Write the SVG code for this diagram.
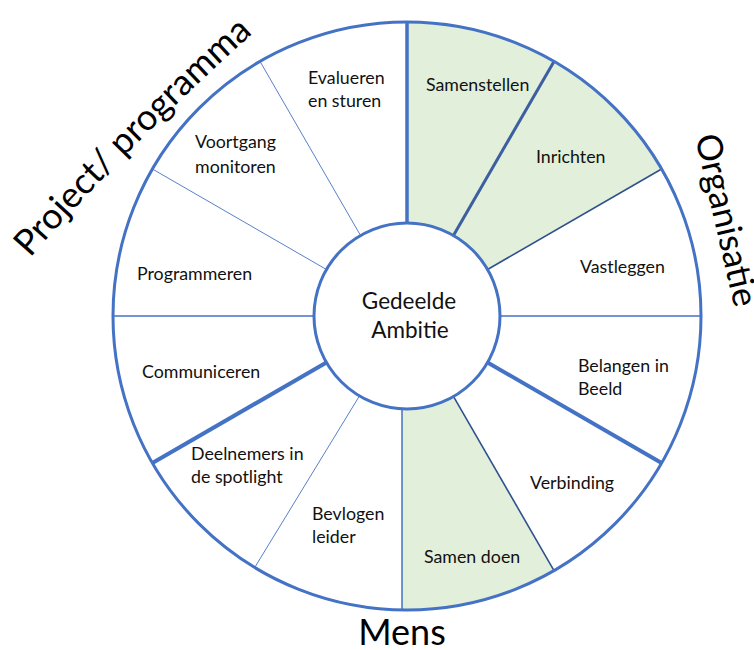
<svg xmlns="http://www.w3.org/2000/svg" width="754" height="650" viewBox="0 0 754 650">
<style>
.lbl{font-family:Lato,"Liberation Sans",sans-serif;font-size:17.8px;fill:#111}
.big{font-family:Lato,"Liberation Sans",sans-serif;font-size:36px;fill:#000}
.ctr{font-family:Lato,"Liberation Sans",sans-serif;font-size:22.5px;fill:#111;text-anchor:middle}
.fill{fill:#E2EFDA;stroke:none}
.thin{stroke:#4472C4;stroke-width:0.9;fill:none}
.mid{stroke:#4472C4;stroke-width:1.5;fill:none}
.dark{stroke:#2F528F;stroke-width:1.6;fill:none}
.thick{stroke:#4472C4;stroke-width:4;fill:none}
.ring{stroke:#4472C4;stroke-width:3;fill:none}
</style>
<rect width="754" height="650" fill="#fff"/>
<g id="samenstellen">
<path class="fill" d="M407,22 A294,294 0 0 1 554,61.4 L453,236.3 A92,92 0 0 0 407,224 Z"/>
<text class="lbl" x="426" y="91">Samenstellen</text>
</g>
<g id="inrichten">
<path class="fill" d="M554,61.4 A294,294 0 0 1 661.6,169 L486.7,270 A92,92 0 0 0 453,236.3 Z"/>
<text class="lbl" x="536" y="163">Inrichten</text>
</g>
<g id="vastleggen"><text class="lbl" x="580" y="273">Vastleggen</text></g>
<g id="belangen"><text class="lbl" x="578" y="372">Belangen in</text><text class="lbl" x="578" y="395">Beeld</text></g>
<g id="verbinding"><text class="lbl" x="530" y="489">Verbinding</text></g>
<g id="samendoen">
<path class="fill" d="M554,570.6 A294,294 0 0 1 402,610 L402,407.9 A92,92 0 0 0 453,395.7 Z"/>
<text class="lbl" x="424" y="563">Samen doen</text>
</g>
<g id="bevlogen"><text class="lbl" x="312" y="520">Bevlogen</text><text class="lbl" x="312" y="543">leider</text></g>
<g id="deelnemers"><text class="lbl" x="191" y="460">Deelnemers in</text><text class="lbl" x="191" y="483">de spotlight</text></g>
<g id="communiceren"><text class="lbl" x="142" y="378">Communiceren</text></g>
<g id="programmeren"><text class="lbl" x="137" y="280">Programmeren</text></g>
<g id="voortgang"><text class="lbl" x="195" y="148">Voortgang</text><text class="lbl" x="195" y="173">monitoren</text></g>
<g id="evalueren"><text class="lbl" x="308" y="84">Evalueren</text><text class="lbl" x="308" y="107">en sturen</text></g>
<g id="connectors">
<line class="thick" x1="407" y1="22" x2="407" y2="224" style="stroke-width:3.5"/>
<line x1="554" y1="61.4" x2="453" y2="236.3" stroke="#3B5FA0" stroke-width="3"/>
<line class="dark" x1="661.6" y1="169" x2="486.7" y2="270"/>
<line class="mid" x1="499" y1="316" x2="701" y2="316"/>
<line class="thick" x1="486.7" y1="362" x2="661.6" y2="463"/>
<line class="dark" x1="453" y1="395.7" x2="554" y2="570.6"/>
<line class="mid" x1="402" y1="407.9" x2="402" y2="610"/>
<line class="thin" x1="360" y1="395" x2="255" y2="567"/>
<line class="thick" x1="327.3" y1="362" x2="152.4" y2="463"/>
<line class="mid" x1="113" y1="316" x2="315" y2="316"/>
<line class="thin" x1="327.3" y1="270" x2="152.4" y2="169"/>
<line class="thin" x1="361" y1="236.3" x2="260" y2="61.4"/>
<circle class="ring" cx="407" cy="316" r="294"/>
</g>
<g id="center">
<circle class="ring" cx="407" cy="316" r="93" fill="#fff"/>
<text class="ctr" x="409" y="309">Gedeelde</text>
<text class="ctr" x="410" y="338">Ambitie</text>
</g>
<g id="titles">
<defs><path id="pp" d="M30,258 Q132,142 250,36"/></defs>
<text class="big"><textPath href="#pp">Project/ programma</textPath></text>
<text class="big" transform="translate(695,137) rotate(77)" style="font-size:35px">Organisatie</text>
<text class="big" x="402" y="645" text-anchor="middle">Mens</text>
</g>
</svg>
